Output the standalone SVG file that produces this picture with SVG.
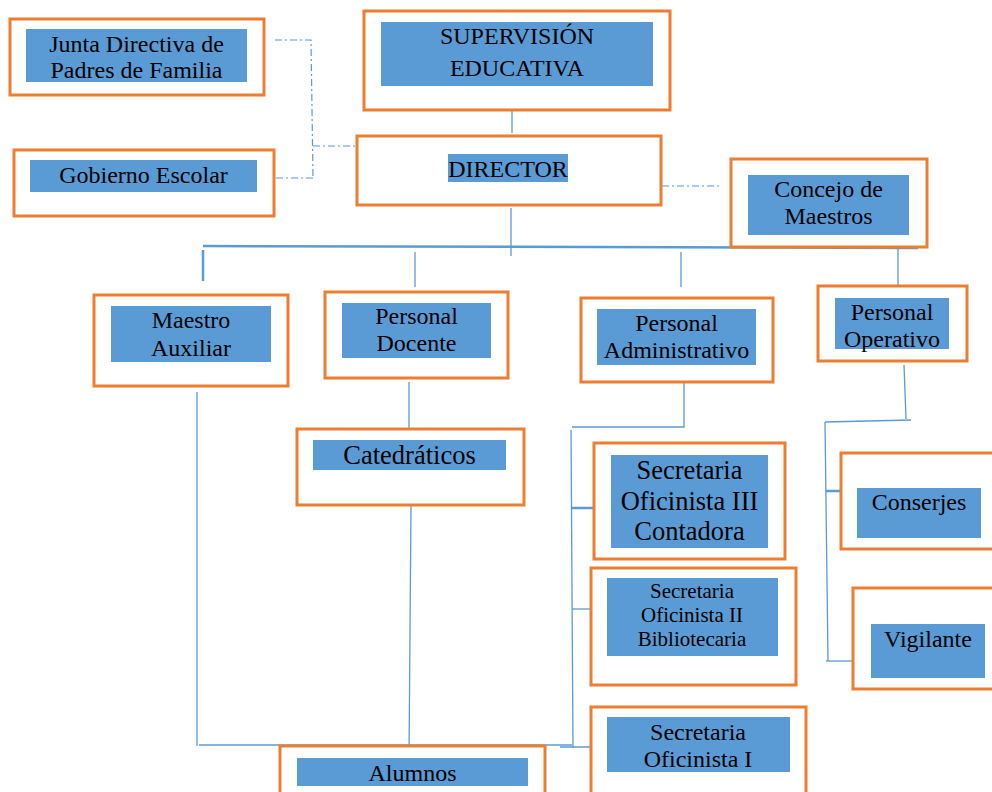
<svg xmlns="http://www.w3.org/2000/svg" width="992" height="792" viewBox="0 0 992 792" font-family="'Liberation Serif', 'Times New Roman', 'DejaVu Serif', serif">
<style>
.box{fill:#FFFFFF;stroke:#ED7D31;stroke-width:3}
.in{fill:#5B9BD5}
.t{font-size:24px;fill:#000;text-anchor:middle}
.big{font-size:26.5px}
.sm{font-size:21px}
.ln{fill:none;stroke:#5B9BD5;stroke-width:1.3}
.th{fill:none;stroke:#5B9BD5;stroke-width:2.5}
.dd{fill:none;stroke:#5B9BD5;stroke-width:1.2;stroke-dasharray:7 3 2 3}
</style>
<rect width="992" height="792" fill="#FFFFFF"/>
<g id="connectors">
<path class="dd" d="M275 40 H311 L313 178 M313 146 H367 M276 178 H315"/>
<path class="dd" d="M662 186 H720"/>
<path class="ln" d="M512 100 V133"/>
<path class="ln" d="M511 208 V256"/>
<path class="th" d="M203 246 L918 248" stroke-width="2"/>
<path class="th" d="M203 250 V281"/>
<path class="ln" d="M415 252 V287"/>
<path class="ln" d="M681 252 V287"/>
<path class="ln" d="M898 247 V287"/>
<path class="ln" d="M409 382 V429"/>
<path class="ln" d="M411 506 L409 758"/>
<path class="ln" d="M197 392 V746"/>
<path class="ln" d="M199 745 H572"/>
<path class="ln" d="M684 383 V427 H572"/>
<path class="ln" d="M571 430 L573 748"/>
<path class="th" d="M572 508 H595"/>
<path class="ln" d="M572 609 H595"/>
<path class="ln" d="M560 747 H597"/>
<path class="ln" d="M904 365 L906 419 M911 420 L825 422 M825 422 L828 661"/>
<path class="th" d="M826 491 H847"/>
<path class="ln" d="M826 661 H858"/>
</g>
<g id="junta">
<rect class="box" x="10" y="19" width="254" height="76"/>
<rect class="in" x="26" y="29" width="221" height="53"/>
<text class="t" x="136.5" y="52">Junta Directiva de</text>
<text class="t" x="136.5" y="78">Padres de Familia</text>
</g>
<g id="gobierno">
<rect class="box" x="14" y="150" width="260" height="66"/>
<rect class="in" x="30" y="160" width="227" height="32"/>
<text class="t" x="143.5" y="183">Gobierno Escolar</text>
</g>
<g id="supervision">
<rect class="box" x="364" y="11" width="306" height="99"/>
<rect class="in" x="381" y="22" width="272" height="64"/>
<text class="t" x="517" y="44">SUPERVISIÓN</text>
<text class="t" x="517" y="76">EDUCATIVA</text>
</g>
<g id="director">
<rect class="box" x="357" y="136" width="304" height="69"/>
<rect class="in" x="448" y="154" width="120" height="28"/>
<text class="t" x="508" y="177">DIRECTOR</text>
</g>
<g id="concejo">
<rect class="box" x="731" y="159" width="196" height="88"/>
<rect class="in" x="748" y="175" width="161" height="60"/>
<text class="t" x="828.5" y="197">Concejo de</text>
<text class="t" x="828.5" y="224">Maestros</text>
</g>
<g id="maestro">
<rect class="box" x="94" y="295" width="194" height="91"/>
<rect class="in" x="111" y="306" width="160" height="56"/>
<text class="t" x="191" y="328">Maestro</text>
<text class="t" x="191" y="356">Auxiliar</text>
</g>
<g id="docente">
<rect class="box" x="325" y="292" width="183" height="86"/>
<rect class="in" x="342" y="303" width="149" height="55"/>
<text class="t" x="416.5" y="324">Personal</text>
<text class="t" x="416.5" y="351">Docente</text>
</g>
<g id="administrativo">
<rect class="box" x="581" y="298" width="192" height="84"/>
<rect class="in" x="597" y="309" width="159" height="56"/>
<text class="t" x="676.5" y="331">Personal</text>
<text class="t" x="676.5" y="358">Administrativo</text>
</g>
<g id="operativo">
<rect class="box" x="818" y="286" width="149" height="75"/>
<rect class="in" x="835" y="298" width="114" height="51"/>
<text class="t" x="892" y="320">Personal</text>
<text class="t" x="892" y="347">Operativo</text>
</g>
<g id="catedraticos">
<rect class="box" x="297" y="429" width="227" height="76"/>
<rect class="in" x="313" y="440" width="193" height="30"/>
<text class="t big" x="409.5" y="464">Catedráticos</text>
</g>
<g id="secretaria3">
<rect class="box" x="594" y="443" width="191" height="116"/>
<rect class="in" x="611" y="455" width="157" height="93"/>
<text class="t big" x="689.5" y="479">Secretaria</text>
<text class="t big" x="689.5" y="510">Oficinista III</text>
<text class="t big" x="689.5" y="540">Contadora</text>
</g>
<g id="secretaria2">
<rect class="box" x="591" y="568" width="205" height="117"/>
<rect class="in" x="607" y="578" width="171" height="78"/>
<text class="t sm" x="692" y="598">Secretaria</text>
<text class="t sm" x="692" y="622">Oficinista II</text>
<text class="t sm" x="692" y="646">Bibliotecaria</text>
</g>
<g id="secretaria1">
<rect class="box" x="591" y="707" width="215" height="90"/>
<rect class="in" x="607" y="717" width="183" height="55"/>
<text class="t" x="698" y="740">Secretaria</text>
<text class="t" x="698" y="767">Oficinista I</text>
</g>
<g id="conserjes">
<rect class="box" x="841" y="453" width="160" height="96"/>
<rect class="in" x="857" y="488" width="124" height="50"/>
<text class="t" x="919" y="510">Conserjes</text>
</g>
<g id="vigilante">
<rect class="box" x="853" y="588" width="150" height="101"/>
<rect class="in" x="871" y="624" width="114" height="54"/>
<text class="t" x="928" y="647">Vigilante</text>
</g>
<g id="alumnos">
<rect class="box" x="280" y="746" width="265" height="60"/>
<rect class="in" x="297" y="758" width="231" height="28"/>
<text class="t" x="412.5" y="781">Alumnos</text>
</g>
</svg>
